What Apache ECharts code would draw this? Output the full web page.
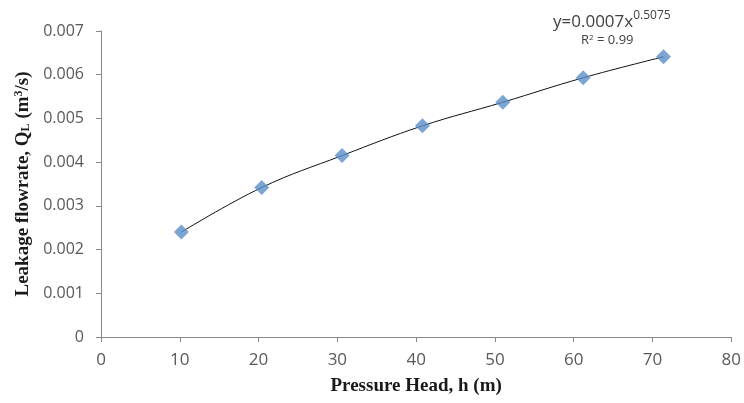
<!DOCTYPE html>
<html>
<head>
<meta charset="utf-8">
<script src="https://cdn.jsdelivr.net/npm/echarts@6/dist/echarts.min.js"></script>
<style>
  html, body { margin: 0; padding: 0; background: #fff; }
  #chart { width: 744px; height: 403px; }
</style>
</head>
<body>
<div id="chart"></div>
<script>
// pressure head (m) and measured leakage flowrate (m3/s)
const head = [10.2, 20.4, 30.6, 40.8, 51.0, 61.2, 71.4]
const flow = [0.00240, 0.00342, 0.00415, 0.00483, 0.00537, 0.00593, 0.00641]
const xTicks = [0, 10, 20, 30, 40, 50, 60, 70, 80]
const yTicks = [0, 0.001, 0.002, 0.003, 0.004, 0.005, 0.006, 0.007]

const points = head.map((h, i) => [h, flow[i]])

const axisGrey = '#898989'
const labelColor = '#595959'
const titleColor = '#1a1a1a'

const chart = echarts.init(document.getElementById('chart'))

const option = {
  animation: false,
  grid: {
    left: 101,
    right: 11,
    top: 31,
    bottom: 66
  },
  xAxis: {
    type: 'value',
    min: xTicks[0],
    max: xTicks[xTicks.length - 1],
    interval: 10,
    name: 'Pressure Head, h (m)',
    nameLocation: 'middle',
    nameGap: 40,
    nameTextStyle: {
      fontFamily: 'Liberation Serif',
      fontWeight: 'bold',
      fontSize: 19,
      color: titleColor
    },
    axisLine: { lineStyle: { color: axisGrey } },
    axisTick: { show: true, length: 5, lineStyle: { color: axisGrey } },
    axisLabel: {
      fontFamily: 'Open Sans',
      fontSize: 17,
      color: labelColor,
      margin: 15
    },
    splitLine: { show: false }
  },
  yAxis: {
    type: 'value',
    min: yTicks[0],
    max: yTicks[yTicks.length - 1],
    interval: 0.001,
    name: 'Leakage flowrate, Q{sub|L} (m{sup|3}/s)',
    nameLocation: 'middle',
    nameRotate: 90,
    nameGap: 66,
    nameTextStyle: {
      fontFamily: 'Liberation Serif',
      fontWeight: 'bold',
      fontSize: 19,
      color: titleColor,
      padding: [0, 0, 0, 0],
      rich: {
        sub: {
          fontFamily: 'Liberation Serif',
          fontWeight: 'bold',
          fontSize: 12,
          color: titleColor,
          verticalAlign: 'bottom',
          padding: [7, 0, 0, 0]
        },
        sup: {
          fontFamily: 'Liberation Serif',
          fontWeight: 'bold',
          fontSize: 12,
          color: titleColor,
          verticalAlign: 'top',
          padding: [0, 0, 7, 0]
        }
      }
    },
    axisLine: { show: true, lineStyle: { color: axisGrey } },
    axisTick: { show: true, length: 5, lineStyle: { color: axisGrey } },
    axisLabel: {
      fontFamily: 'Open Sans',
      fontSize: 16,
      color: labelColor,
      margin: 17,
      formatter: v => (v === 0 ? '0' : v.toFixed(3))
    },
    splitLine: { show: false }
  },
  graphic: [
    {
      type: 'text',
      left: 553,
      top: 10,
      style: {
        text: '{b|y=0.0007x}{s|0.5075}',
        rich: {
          b: { fontFamily: 'Open Sans', fontSize: 17, fill: '#404040', verticalAlign: 'bottom' },
          s: { fontFamily: 'Open Sans', fontSize: 12, fill: '#404040', verticalAlign: 'top', padding: [0, 0, 9, 0] }
        }
      }
    },
    {
      type: 'text',
      left: 581,
      top: 34,
      style: {
        text: '{b|R}{s|2}{b| = 0.99}',
        rich: {
          b: { fontFamily: 'Open Sans', fontSize: 13, fill: '#404040' },
          s: { fontFamily: 'Open Sans', fontSize: 8, fill: '#404040', verticalAlign: 'top', padding: [0, 0, 5, 0] }
        }
      }
    }
  ],
  series: [
    {
      name: 'trend',
      type: 'line',
      data: points,
      smooth: 0.4,
      showSymbol: false,
      symbol: 'none',
      lineStyle: { color: '#111', width: 1 },
      z: 2
    },
    {
      name: 'measured',
      type: 'scatter',
      data: points,
      symbol: 'diamond',
      symbolSize: 15,
      itemStyle: { color: '#5b8fc9' },
      z: 3
    }
  ]
}

chart.setOption(option)

window.addEventListener('resize', () => {
  chart.resize()
})
</script>
</body>
</html>
